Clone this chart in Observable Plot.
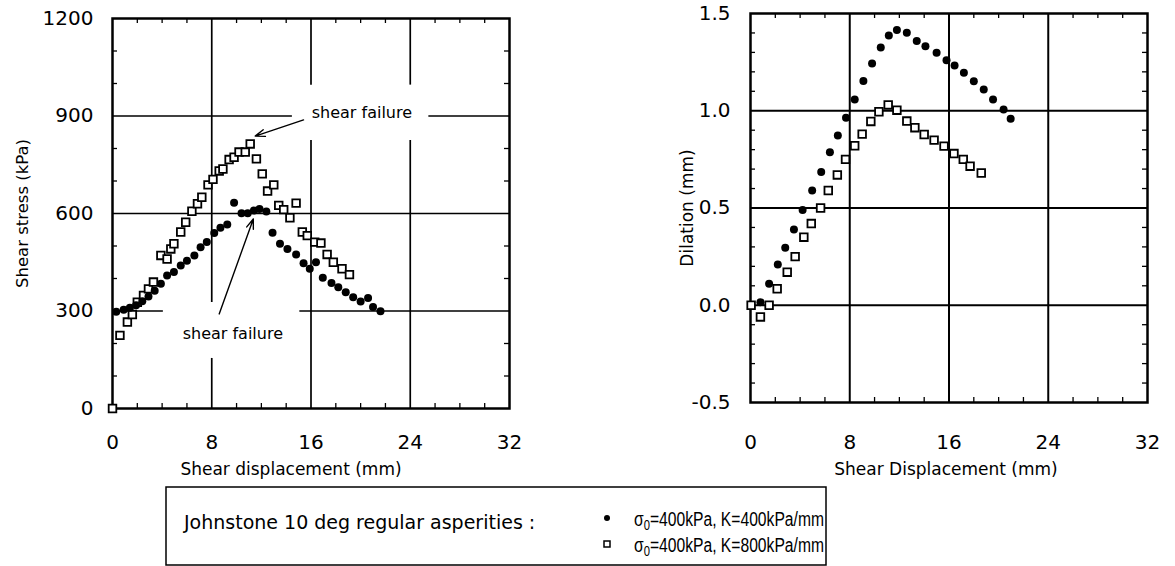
<!DOCTYPE html>
<html><head><meta charset="utf-8">
<script src="https://cdn.jsdelivr.net/npm/d3@7"></script>
<script src="https://cdn.jsdelivr.net/npm/@observablehq/plot@0.6"></script>
<style>
html,body{margin:0;padding:0;background:#fff;}
body{width:1175px;height:566px;position:relative;overflow:hidden;font-family:"DejaVu Sans",sans-serif;color:#000;}
#left{position:absolute;left:0;top:0;}
#right{position:absolute;left:620px;top:0;}
#legend{position:absolute;left:0;top:480px;}
</style>
</head><body>
<div id="left"></div><div id="right"></div><div id="legend"></div>
<script>
// ---- data ----
const sx400  = [0.3, 0.9, 1.4, 1.9, 2.4, 2.9, 3.4, 3.9, 4.4, 4.95, 5.5, 6.0, 6.6, 7.1, 7.6, 8.2, 8.7, 9.25, 9.8, 10.4, 10.9, 11.4, 11.85, 12.4, 12.9, 13.5, 14.1, 14.8, 15.4, 15.9, 16.4, 16.95, 17.65, 18.2, 18.8, 19.4, 20.0, 20.6, 21.0, 21.6];
const tau400 = [298, 304, 310, 318, 330, 345, 362, 384, 409, 420, 440, 455, 471, 496, 512, 540, 556, 566, 633, 601, 601, 609, 614, 606, 541, 507, 491, 474, 447, 430, 450, 402, 386, 373, 358, 342, 329, 340, 312, 299];
const sx800  = [0, 0.6, 1.2, 1.6, 2.0, 2.5, 2.9, 3.3, 3.9, 4.4, 4.7, 4.95, 5.5, 5.9, 6.4, 6.85, 7.2, 7.7, 8.1, 8.6, 8.9, 9.4, 9.8, 10.2, 10.7, 11.1, 11.6, 12.07, 12.5, 13.0, 13.4, 13.8, 14.3, 14.8, 15.3, 15.7, 16.3, 16.8, 17.3, 17.8, 18.5, 19.1];
const tau800 = [0, 225, 266, 289, 327, 348, 368, 389, 471, 460, 491, 507, 543, 573, 607, 630, 650, 688, 705, 731, 737, 766, 773, 789, 789, 814, 768, 722, 669, 688, 625, 612, 587, 632, 543, 532, 512, 509, 474, 450, 430, 412];
const dx400  = [0.8, 1.5, 2.2, 2.8, 3.5, 4.2, 4.97, 5.7, 6.4, 7.04, 7.7, 8.4, 9.1, 9.8, 10.5, 11.15, 11.8, 12.6, 13.4, 14.1, 15.0, 15.8, 16.45, 17.2, 18.0, 18.8, 19.55, 20.4, 20.97];
const dil400 = [0.016, 0.11, 0.21, 0.295, 0.39, 0.49, 0.59, 0.685, 0.787, 0.873, 0.964, 1.058, 1.153, 1.243, 1.325, 1.387, 1.415, 1.401, 1.358, 1.332, 1.298, 1.26, 1.233, 1.195, 1.152, 1.109, 1.058, 1.007, 0.959];
const dx800  = [0.05, 0.8, 1.5, 2.15, 2.96, 3.6, 4.3, 4.9, 5.65, 6.27, 7.0, 7.66, 8.4, 9.0, 9.7, 10.35, 11.1, 11.8, 12.6, 13.25, 14.0, 14.8, 15.6, 16.4, 17.15, 17.7, 18.6];
const dil800 = [0, -0.06, 0.0, 0.085, 0.17, 0.25, 0.35, 0.42, 0.50, 0.59, 0.67, 0.75, 0.82, 0.88, 0.945, 0.995, 1.03, 1.003, 0.947, 0.913, 0.878, 0.849, 0.818, 0.78, 0.75, 0.715, 0.68];

const xTicks      = [0, 8, 16, 24, 32];
const xMinor      = [2, 4, 6, 10, 12, 14, 18, 20, 22, 26, 28, 30];
const stressTicks = [0, 300, 600, 900, 1200];
const stressMinor = [100, 200, 400, 500, 700, 800, 1000, 1100];
const dilTicks    = [-0.5, 0.0, 0.5, 1.0, 1.5];
const dilMinor    = [-0.4, -0.3, -0.2, -0.1, 0.1, 0.2, 0.3, 0.4, 0.6, 0.7, 0.8, 0.9, 1.1, 1.2, 1.3, 1.4];

// grid segments (partial lines as in the original figure)
const stressGridH = [{y: 300, x1: 0, x2: 4.1}, {y: 300, x1: 15.1, x2: 32}, {y: 600, x1: 0, x2: 32}, {y: 900, x1: 0, x2: 14.5}, {y: 900, x1: 25.5, x2: 32}];
const stressGridV = [{x: 8, y1: 0, y2: 154}, {x: 8, y1: 326, y2: 1200}, {x: 16, y1: 0, y2: 825}, {x: 16, y1: 995, y2: 1200}, {x: 24, y1: 0, y2: 825}, {x: 24, y1: 995, y2: 1200}];
const dilGridX = [8, 16, 24];
const dilGridY = [0, 0.5, 1.0];

const notes  = [{text: "shear failure", x: 20.1, y: 911}, {text: "shear failure", x: 9.7, y: 231}];
const arrows = [{x1: 15.4, y1: 888, x2: 11.5, y2: 838}, {x1: 8.6, y1: 291, x2: 11.35, y2: 583}];

const legendTitle = "Johnstone 10 deg regular asperities :";
const legendLabels = [{rest: "=400kPa, K=400kPa/mm", symbol: "circle"}, {rest: "=400kPa, K=800kPa/mm", symbol: "square"}];

// ---- build tables ----
const s400 = sx400.map((x, i) => ({x, y: tau400[i]}));
const s800 = sx800.map((x, i) => ({x, y: tau800[i]}));
const d400 = dx400.map((x, i) => ({x, y: dil400[i]}));
const d800 = dx800.map((x, i) => ({x, y: dil800[i]}));

const FONT = "DejaVu Sans";
const TICK = 5;

function frameTicks(xm, ym, fw, fh) {
  return [
    Plot.tickY(ym, {y: d => d, insetRight: fw - TICK, strokeWidth: 1.3}),
    Plot.tickY(ym, {y: d => d, insetLeft: fw - TICK, strokeWidth: 1.3}),
    Plot.tickX(xm, {x: d => d, insetTop: fh - TICK, strokeWidth: 1.3}),
    Plot.tickX(xm, {x: d => d, insetBottom: fh - TICK, strokeWidth: 1.3})
  ];
}

// ---- left plot: shear stress ----
const left = Plot.plot({
  width: 560, height: 480,
  marginLeft: 112, marginRight: 51, marginTop: 18, marginBottom: 72,
  x: {domain: [0, 32]},
  y: {domain: [0, 1200]},
  style: {fontFamily: FONT, fontSize: "20px", color: "#000", background: "transparent", overflow: "visible"},
  marks: [
    Plot.ruleY(stressGridH, {y: "y", x1: "x1", x2: "x2", strokeWidth: 1.7}),
    Plot.ruleX(stressGridV, {x: "x", y1: "y1", y2: "y2", strokeWidth: 1.7}),
    ...frameTicks(xMinor, stressMinor, 397, 390),
    Plot.frame({strokeWidth: 2.5}),
    Plot.axisX({ticks: xTicks, tickSize: 0, tickPadding: 26, label: null, fontSize: 20}),
    Plot.axisY({ticks: stressTicks, tickSize: 0, tickPadding: 19, label: null, fontSize: 20, tickFormat: d => String(d)}),
    Plot.text(["Shear displacement (mm)"], {text: d => d, frameAnchor: "bottom", dx: -20, dy: 66, fontSize: 17, textAnchor: "middle"}),
    Plot.text(["Shear stress (kPa)"], {text: d => d, frameAnchor: "left", dx: -90, rotate: -90, fontSize: 16.5, textAnchor: "middle"}),
    Plot.arrow(arrows, {x1: "x1", y1: "y1", x2: "x2", y2: "y2", strokeWidth: 1.4, headLength: 11, headAngle: 40}),
    Plot.text(notes, {x: "x", y: "y", text: "text", fontSize: 16}),
    Plot.dot(s800, {x: "x", y: "y", symbol: "square", r: 4.3, stroke: "#000", strokeWidth: 1.8, fill: "#fff"}),
    Plot.dot(s400, {x: "x", y: "y", r: 4, fill: "#000"})
  ]
});
document.getElementById("left").append(left);

// ---- right plot: dilation ----
const right = Plot.plot({
  width: 555, height: 480,
  marginLeft: 130, marginRight: 28, marginTop: 13, marginBottom: 78,
  x: {domain: [0, 32]},
  y: {domain: [-0.5, 1.5]},
  style: {fontFamily: FONT, fontSize: "20px", color: "#000", background: "transparent", overflow: "visible"},
  marks: [
    Plot.ruleX(dilGridX, {x: d => d, strokeWidth: 2}),
    Plot.ruleY(dilGridY, {y: d => d, strokeWidth: 2}),
    ...frameTicks(xMinor, dilMinor, 397, 389),
    Plot.frame({strokeWidth: 2.5}),
    Plot.axisX({ticks: xTicks, tickSize: 0, tickPadding: 32, label: null, fontSize: 20}),
    Plot.axisY({ticks: dilTicks, tickSize: 0, tickPadding: 20, label: null, fontSize: 20, tickFormat: d => d.toFixed(1)}),
    Plot.text(["Shear Displacement (mm)"], {text: d => d, frameAnchor: "bottom", dx: -3, dy: 72, fontSize: 17, textAnchor: "middle"}),
    Plot.text(["Dilation (mm)"], {text: d => d, frameAnchor: "left", dx: -63, rotate: -90, fontSize: 17, textAnchor: "middle"}),
    Plot.dot(d800, {x: "x", y: "y", symbol: "square", r: 4.3, stroke: "#000", strokeWidth: 1.8, fill: "#fff"}),
    Plot.dot(d400, {x: "x", y: "y", r: 4, fill: "#000"})
  ]
});
document.getElementById("right").append(right);

// ---- legend (below the plots) ----
const lg = d3.select("#legend").append("svg").attr("width", 1175).attr("height", 86)
  .style("font-family", FONT);
lg.append("rect").attr("x", 166).attr("y", 7).attr("width", 660).attr("height", 78)
  .attr("fill", "none").attr("stroke", "#000").attr("stroke-width", 1.5);
lg.append("text").attr("x", 184).attr("y", 42).attr("dominant-baseline", "central")
  .attr("font-size", 19).text(legendTitle);
legendLabels.forEach((d, i) => {
  const cy = 39 + i * 26;
  if (d.symbol === "circle") lg.append("circle").attr("cx", 607).attr("cy", cy - 1).attr("r", 3).attr("fill", "#000");
  else lg.append("rect").attr("x", 604).attr("y", cy - 4).attr("width", 6).attr("height", 6).attr("fill", "#fff").attr("stroke", "#000").attr("stroke-width", 1.5);
  const t = lg.append("text").attr("x", 634).attr("y", cy).attr("dominant-baseline", "central")
    .attr("font-size", 19.5).attr("font-family", "Liberation Sans")
    .attr("textLength", 190).attr("lengthAdjust", "spacingAndGlyphs");
  t.append("tspan").text("σ");
  t.append("tspan").attr("font-size", 14).attr("dy", 6).text("0");
  t.append("tspan").attr("dy", -6).text(d.rest);
});
</script>
</body></html>
